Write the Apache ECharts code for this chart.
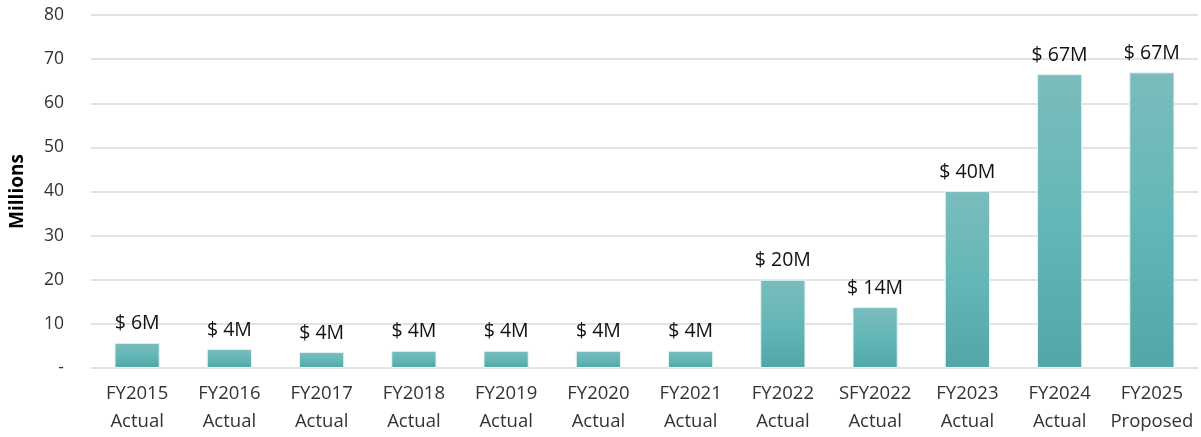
<!DOCTYPE html>
<html>
<head>
<meta charset="utf-8">
<script src="https://cdn.jsdelivr.net/npm/echarts@6/dist/echarts.min.js"></script>
<style>
  html, body { margin: 0; padding: 0; background: #fff; }
  #chart { width: 1201px; height: 437px; }
</style>
</head>
<body>
<div id="chart"></div>
<script>
// categories and values (millions)
const categories = [
  'FY2015\nActual', 'FY2016\nActual', 'FY2017\nActual', 'FY2018\nActual',
  'FY2019\nActual', 'FY2020\nActual', 'FY2021\nActual', 'FY2022\nActual',
  'SFY2022\nActual', 'FY2023\nActual', 'FY2024\nActual', 'FY2025\nProposed'
];
const funding = [5.7, 4.3, 3.6, 3.9, 3.9, 3.9, 3.9, 20.0, 13.8, 40.1, 66.6, 67.0];
const yTicks = [0, 10, 20, 30, 40, 50, 60, 70, 80];

const chart = echarts.init(document.getElementById('chart'));
const font = "'Open Sans', 'Liberation Sans', sans-serif";

const option = {
  animation: false,
  grid: { left: 90, right: 3, top: 15, bottom: 69 },
  xAxis: {
    type: 'category',
    data: categories,
    axisLine: { show: false },
    axisTick: { show: false },
    axisLabel: {
      color: '#333',
      fontFamily: font,
      fontSize: 18.5,
      lineHeight: 28,
      margin: 12,
      interval: 0
    }
  },
  yAxis: {
    type: 'value',
    min: yTicks[0],
    max: yTicks[yTicks.length - 1],
    interval: 10,
    name: 'Millions',
    nameLocation: 'middle',
    nameGap: 64,
    nameRotate: 90,
    nameTextStyle: { color: '#000', fontFamily: font, fontSize: 19, fontWeight: 'bold' },
    axisLabel: {
      color: '#333',
      fontFamily: font,
      fontSize: 17.5,
      margin: 27,
      formatter: v => v === 0 ? '-' : String(v)
    },
    splitLine: { lineStyle: { color: '#d9d9d9', width: 1.5 } }
  },
  series: [{
    type: 'bar',
    data: funding,
    barWidth: '49%',
    itemStyle: {
      color: new echarts.graphic.LinearGradient(0, 0, 0, 1, [
        { offset: 0, color: '#7bbcbc' },
        { offset: 0.5, color: '#64b7b7' },
        { offset: 1, color: '#53a6a6' }
      ]),
      borderColor: '#e6f3f3',
      borderWidth: 1
    },
    label: {
      show: true,
      position: 'top',
      distance: 9,
      color: '#111',
      fontFamily: font,
      fontSize: 19.5,
      formatter: p => '$ ' + Math.round(p.value) + 'M'
    }
  }]
};
chart.setOption(option);
</script>
</body>
</html>
